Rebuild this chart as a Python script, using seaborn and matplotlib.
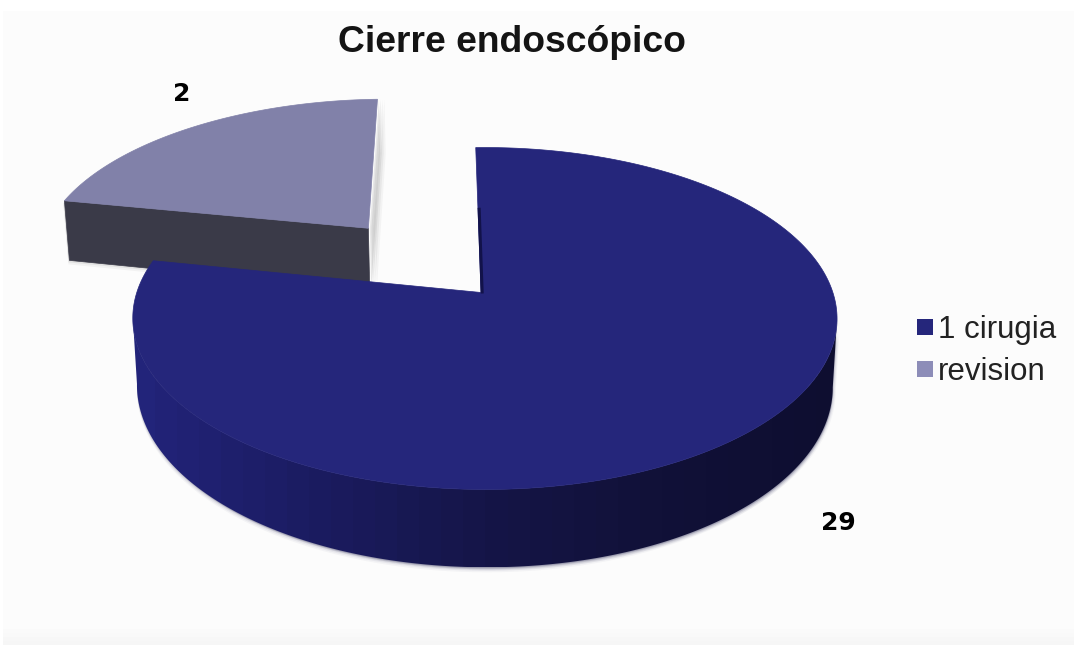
import numpy as np
import matplotlib
matplotlib.use("Agg")
import matplotlib.pyplot as plt
from matplotlib.colors import ListedColormap
from matplotlib.lines import Line2D
from matplotlib.patches import Polygon, Rectangle
import seaborn as sns

# Chart content
title = "Cierre endoscópico"
categories = ["1 cirugia", "revision"]
counts = [29, 2]

sns.set_theme(style="white")
plt.rcParams["font.family"] = ["Liberation Sans", "DejaVu Sans"]

top_colors = sns.color_palette(["#25267B", "#8181A9"])
legend_colors = sns.color_palette(["#25267B", "#8D8DB8"])
rim_colors = sns.blend_palette(["#22247A", "#1B1C60", "#151548", "#111138", "#0E0E30"], 32)
wedge_side = "#3A3A48"

# Perspective of the tilted disc, in pixel units of the canvas
X0, Y0 = 481, 292.5
RX, RY, DEPTH = 348, 167, 66
TILT, SKEW = 0.152, -0.011
START_DEG = -1.0
# The small slice is widened: its angle follows share ** 0.56, not the share itself
ANGLE_POWER = 0.56
EXPLODE_U, EXPLODE_V = -0.345, 0.41


def project(u, v, z=0.0):
    w = 1 + TILT * np.asarray(v) + SKEW * np.asarray(u)
    x = RX * np.asarray(u) / w
    y = -RY * np.asarray(v) / w + z * DEPTH / w
    return np.column_stack([X0 + x * (1 - 0.012 * z), Y0 + y])


def rim(theta):
    return np.sin(theta), np.cos(theta)


share = counts[1] / sum(counts)
small_sweep = 2 * np.pi * share ** ANGLE_POWER
start = np.deg2rad(START_DEG)

fig = plt.figure(figsize=(10.74, 6.45), dpi=100, facecolor="white")
ax = fig.add_axes([0, 0, 1, 1])
ax.axis("off")

# Panel behind the chart, fading slightly grey at the foot
ax.add_patch(Rectangle((3, 11), 1071, 634, fc="#FCFCFC", ec="none", zorder=0))
for i, y in enumerate(range(625, 645, 4)):
    ax.add_patch(Rectangle((3, y), 1071, 4, fc=str(0.988 - 0.006 * i), ec="none", zorder=0))

# Exploded slice: soft shadow, front wall, then top face
th_small = np.linspace(start - small_sweep, start, 90)
su, sv = rim(th_small)
su, sv = su + EXPLODE_U, sv + EXPLODE_V
ap_u, ap_v = np.array([EXPLODE_U]), np.array([EXPLODE_V])

edge_u = np.r_[ap_u, su[-1]]
edge_v = np.r_[ap_v, sv[-1]]
right_wall = np.vstack([project(edge_u, edge_v, 0), project(edge_u, edge_v, 1)[::-1]])
for off, a in [(7, 0.05), (5, 0.07), (3, 0.10), (1.5, 0.12)]:
    ax.add_patch(Polygon(right_wall + [off, 0], fc="#555555", alpha=a, ec="none", zorder=1))
front_u = np.r_[su[0], ap_u]
front_v = np.r_[sv[0], ap_v]
front_wall = np.vstack([project(front_u, front_v, 0), project(front_u, front_v, 1)[::-1]])
for off, a in [(4, 0.06), (2, 0.10)]:
    ax.add_patch(Polygon(front_wall + [-1, off], fc="#555555", alpha=a, ec="none", zorder=1))
ax.add_patch(Polygon(front_wall, fc=wedge_side, ec=wedge_side, lw=0.5, zorder=2))
small_top = np.vstack([project(su, sv), project(ap_u, ap_v)])
ax.add_patch(Polygon(small_top, fc=top_colors[1], ec=top_colors[1], lw=0.5, zorder=3))

# Main slice: curved wall shaded from left to right, then top face
th_main = np.linspace(start, start + 2 * np.pi - small_sweep, 400)
mu, mv = rim(th_main)
upper, lower = project(mu, mv, 0), project(mu, mv, 1)
# The wall shows between the two horizontal extremes of the disc
first, last = np.argmax(upper[:, 0]), np.argmin(upper[:, 0])
visible = np.arange(first, last + 1)

outline = np.vstack([upper[visible], lower[visible][::-1]])
for off, a in [(5, 0.05), (3.5, 0.08), (2, 0.12), (1, 0.15)]:
    ax.add_patch(Polygon(lower[visible] + [0, off], fc="#555577", alpha=a, ec="none", zorder=4))
    ax.add_patch(Polygon(outline + [off * 0.6, off * 0.6], fc="#555577", alpha=a, ec="none", zorder=4))

x_low, x_high = outline[:, 0].min(), outline[:, 0].max()
y_low, y_high = outline[:, 1].min(), outline[:, 1].max()
wall_gradient = ax.imshow(np.linspace(0, 1, 256)[None, :], cmap=ListedColormap(rim_colors),
                          extent=(x_low, x_high, y_high, y_low), aspect="auto", zorder=5,
                          interpolation="nearest")
wall_clip = Polygon(outline, transform=ax.transData, fc="none", ec="none")
ax.add_patch(wall_clip)
wall_gradient.set_clip_path(wall_clip)

main_top = np.vstack([upper, project(np.array([0.0]), np.array([0.0]))])
ax.add_patch(Polygon(main_top, fc=top_colors[0], ec=top_colors[0], lw=0.5, zorder=6))

# Dark inner edge along the notch
notch_end = project(np.array([mu[0] * 0.55]), np.array([mv[0] * 0.55]))[0]
apex = project(np.array([0.0]), np.array([0.0]))[0]
ax.plot([notch_end[0] + 1.2, apex[0] + 1.2], [notch_end[1], apex[1] + 1], color="#12124A", lw=2.2,
        solid_capstyle="butt", zorder=7)

# Texts
ax.text(511.5, 43, title, ha="center", va="center", fontsize=26.8, fontweight="bold",
        color="#141414", zorder=8)
bold_digits = dict(family="DejaVu Sans", fontsize=18, fontweight="heavy", color="black",
                   ha="center", va="center", zorder=8)
ax.text(838, 523, str(counts[0]), **bold_digits)
ax.text(182, 94, str(counts[1]), **bold_digits)

handles = [Line2D([], [], ls="none", marker="s", ms=11, mfc=c, mec=c, mew=0) for c in legend_colors]
ax.legend(handles, categories, loc="center left", bbox_to_anchor=(916, 351),
          bbox_transform=ax.transData, frameon=False, fontsize=22.5, labelspacing=0.40,
          handlelength=0.6, handletextpad=0.1, borderpad=0, borderaxespad=0,
          labelcolor="#222222")

ax.set_xlim(0, 1074)
ax.set_ylim(645, 0)
fig.savefig("out.png", dpi=100, facecolor="white")
